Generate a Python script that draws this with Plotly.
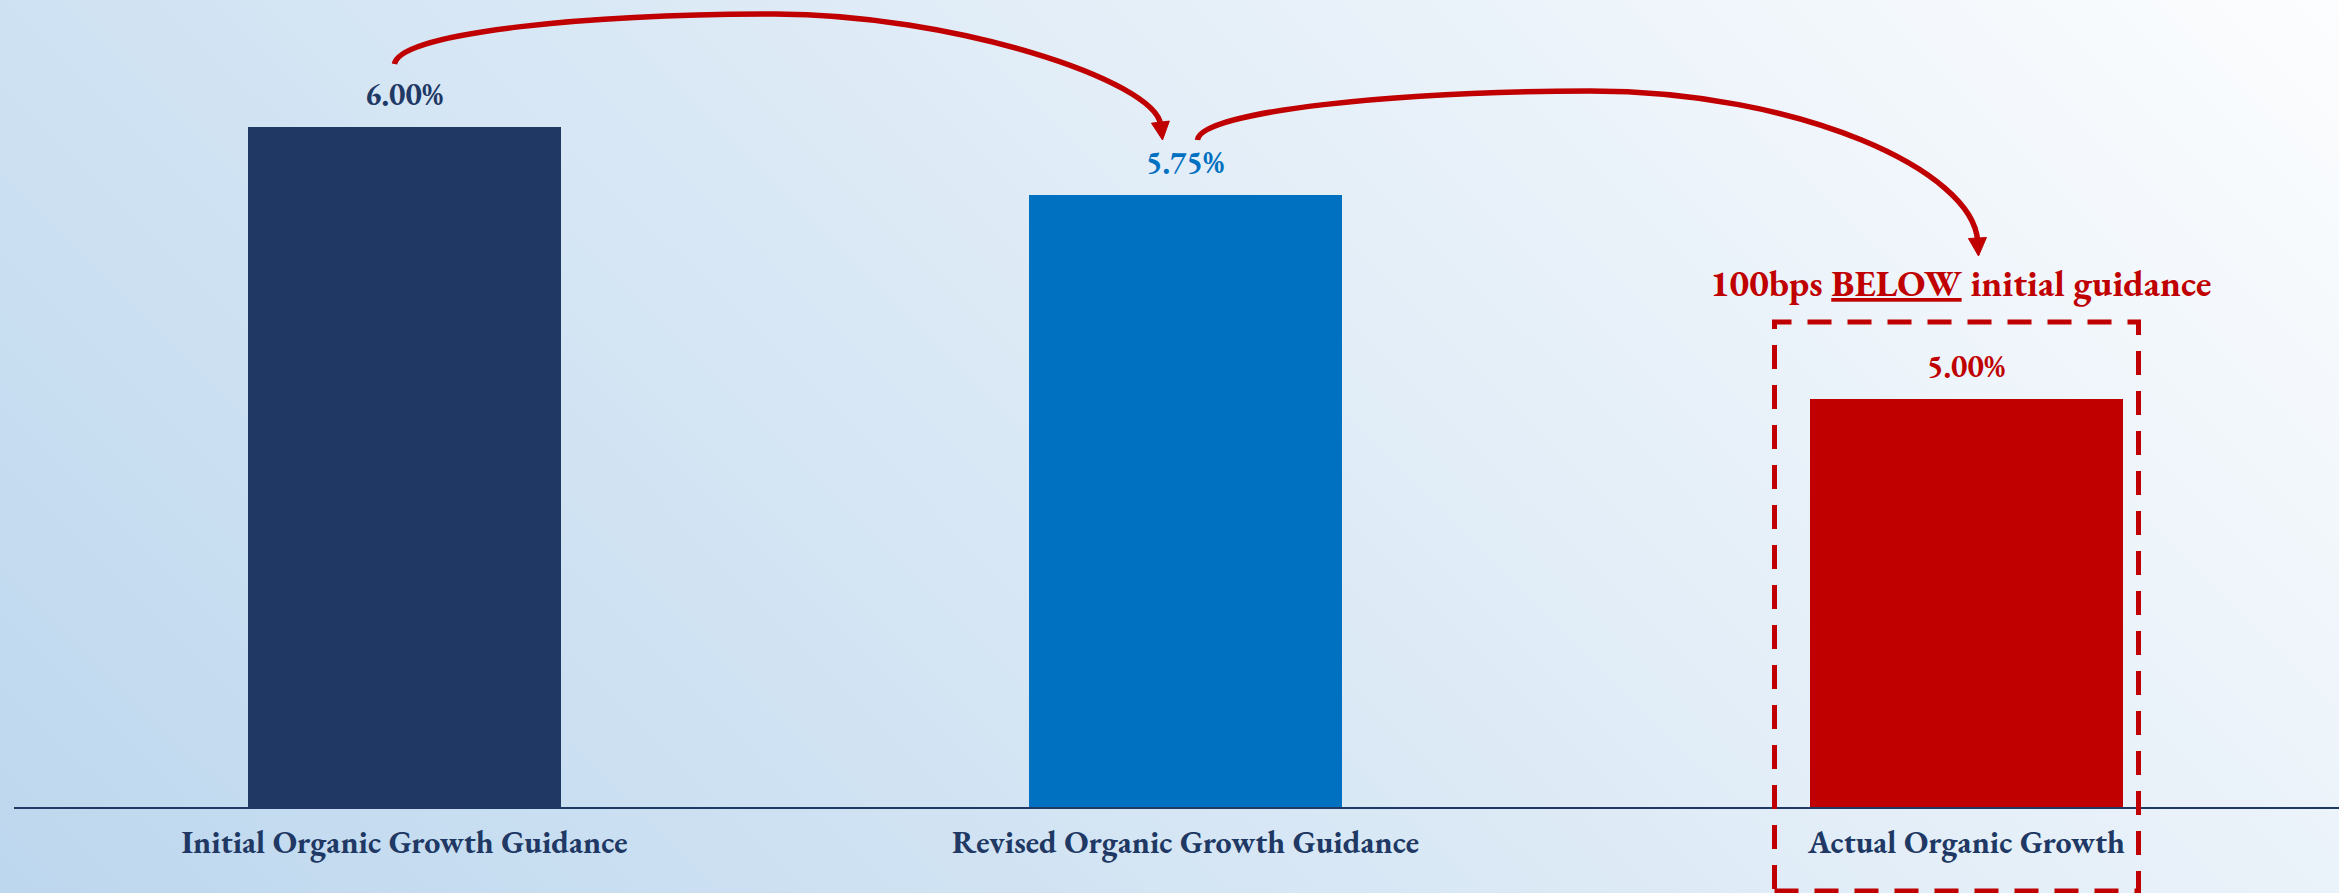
import base64
import math
import plotly.graph_objects as go

# ---------------- data ----------------
categories = ["Initial Organic Growth Guidance",
              "Revised Organic Growth Guidance",
              "Actual Organic Growth"]
values = [6.00, 5.75, 5.00]
value_labels = ["6.00%", "5.75%", "5.00%"]
bar_colors = ["#203864", "#0070C0", "#C00000"]
callout_text = "100bps <u>BELOW</u> initial guidance"

# ---------------- geometry ----------------
W, H = 2339, 893
ML, MR, MT, MB = 14, 0, 0, 86
PW, PH = W - ML - MR, H - MT - MB
CAT_PX = 781.0        # pixels per category
VAL_PX = 272.0        # pixels per percentage point
XR = [-0.5, -0.5 + PW / CAT_PX]
YR = [3.5, 3.5 + PH / VAL_PX]
RED = "#C00000"
NAVY = "#203864"
FONT = "Garamond, 'EB Garamond', 'Liberation Serif', 'Times New Roman', serif"


def px_x(xd):
    return ML + (xd - XR[0]) / (XR[1] - XR[0]) * PW


def px_y(yd):
    return MT + (YR[1] - yd) / (YR[1] - YR[0]) * PH


def d_x(px):
    return XR[0] + (px - ML) / PW * (XR[1] - XR[0])


def d_y(py):
    return YR[1] - (py - MT) / PH * (YR[1] - YR[0])


def p_x(px):  # pixel -> paper
    return (px - ML) / PW


def p_y(py):
    return 1 - (py - MT) / PH


xs = list(range(len(categories)))
anchors = [(px_x(i), px_y(v)) for i, v in zip(xs, values)]  # bar tops in px

fig = go.Figure()
fig.add_trace(go.Bar(x=xs, y=values, marker=dict(color=bar_colors, line=dict(width=0)),
                     width=0.4, hoverinfo="skip"))

# value labels
for i, (v, lab, col) in enumerate(zip(values, value_labels, bar_colors)):
    fig.add_annotation(x=i, y=v, xref="x", yref="y", text=lab, showarrow=False,
                       yanchor="bottom", yshift=11,
                       font=dict(family=FONT, size=31, color=col, weight="bold"))

# callout text above actual bar
ax3, ay3 = anchors[2]
fig.add_annotation(x=d_x(ax3 - 6), y=values[2], xref="x", yref="y", text=callout_text,
                   showarrow=False, yanchor="bottom", yshift=90,
                   font=dict(family=FONT, size=37, color=RED, weight="bold"))

# dashed box around actual bar (paper refs -> not clipped)
fig.add_shape(type="rect", xref="paper", yref="paper",
              x0=p_x(ax3 - 192), x1=p_x(ax3 + 172),
              y0=p_y(H - 2), y1=p_y(ay3 - 77),
              line=dict(color=RED, width=5, dash="24px,16px"),
              fillcolor="rgba(0,0,0,0)", layer="above")


# curved arrows
def arrow(S, C1, C2, M, C3, T, C4_off, L=18, hw=9):
    C4 = (T[0] + C4_off[0], T[1] + C4_off[1])
    dx, dy = T[0] - C4[0], T[1] - C4[1]
    n = math.hypot(dx, dy)
    ux, uy = dx / n, dy / n
    E = (T[0] - (L - 3) * ux, T[1] - (L - 3) * uy)
    pts = [S, C1, C2, M, C3, C4, E]
    dd = [(d_x(p[0]), d_y(p[1])) for p in pts]
    path = ("M {0[0]},{0[1]} C {1[0]},{1[1]} {2[0]},{2[1]} {3[0]},{3[1]} "
            "C {4[0]},{4[1]} {5[0]},{5[1]} {6[0]},{6[1]}").format(*dd)
    fig.add_shape(type="path", xref="x", yref="y", path=path,
                  line=dict(color=RED, width=5.5), layer="above")
    B = (T[0] - L * ux, T[1] - L * uy)
    nx, ny = -uy, ux
    tri = [T, (B[0] + hw * nx, B[1] + hw * ny), (B[0] - hw * nx, B[1] - hw * ny)]
    td = [(d_x(p[0]), d_y(p[1])) for p in tri]
    tpath = "M {0[0]},{0[1]} L {1[0]},{1[1]} L {2[0]},{2[1]} Z".format(*td)
    fig.add_shape(type="path", xref="x", yref="y", path=tpath,
                  line=dict(color=RED, width=1), fillcolor=RED, layer="above")


a1, a2, a3 = anchors
S1 = (a1[0] - 10, a1[1] - 63)
T1 = (a2[0] - 23, a2[1] - 55)
arrow(S1, (S1[0] + 5, S1[1] - 33), (S1[0] + 205, 14), (775, 14), (950, 14), T1, (-7, -60))

S2 = (a2[0] + 12, a2[1] - 55)
T2 = (a3[0] + 12, a3[1] - 143)
arrow(S2, (S2[0] + 3, S2[1] - 29), (1400, 91), (1590, 91), (1800, 91), T2, (-5, -85))

# gradient background
svg = ("<svg xmlns='http://www.w3.org/2000/svg' width='{w}' height='{h}' viewBox='0 0 {w} {h}' "
       "preserveAspectRatio='none'><defs><linearGradient id='g' gradientUnits='userSpaceOnUse' "
       "x1='0' y1='{h}' x2='1616' y2='-723'><stop offset='0' stop-color='#BDD7EE'/>"
       "<stop offset='1' stop-color='#FCFDFE'/></linearGradient></defs>"
       "<rect width='{w}' height='{h}' fill='url(#g)'/></svg>").format(w=W, h=H)
src = "data:image/svg+xml;base64," + base64.b64encode(svg.encode()).decode()
fig.add_layout_image(source=src, xref="paper", yref="paper", x=-ML / PW, y=1 + MT / PH,
                     sizex=W / PW, sizey=H / PH, xanchor="left", yanchor="top",
                     sizing="stretch", layer="below")

fig.update_layout(
    width=W, height=H,
    margin=dict(l=ML, r=MR, t=MT, b=MB, pad=0),
    paper_bgcolor="white", plot_bgcolor="rgba(0,0,0,0)",
    showlegend=False, bargap=0,
    xaxis=dict(range=XR, tickmode="array", tickvals=xs, ticktext=categories,
               showgrid=False, zeroline=False, showline=True, linecolor=NAVY, linewidth=2,
               ticks="", ticklabelstandoff=6,
               tickfont=dict(family=FONT, size=32, color=NAVY, weight="bold"),
               fixedrange=True),
    yaxis=dict(range=YR, visible=False, showgrid=False, zeroline=False, fixedrange=True),
)

fig.write_html("out.html")
